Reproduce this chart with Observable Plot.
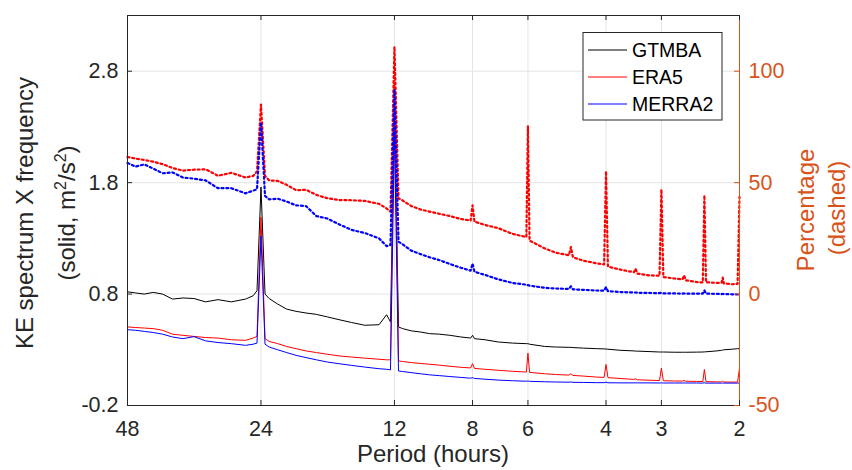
<!DOCTYPE html>
<html><head><meta charset="utf-8">
<script src="https://cdn.jsdelivr.net/npm/d3@7"></script>
<script src="https://cdn.jsdelivr.net/npm/@observablehq/plot@0.6"></script>
<style>
body{margin:0;background:#fff;}
svg{font-family:"Liberation Sans", Arial, Helvetica, sans-serif;}
</style></head><body><div id="chart"></div>
<script>
// Period (hours)
const periods = [48,46,44,42,40,38,36,34,32,30, 28,26,25,24.5,24,23.5,23,22,21,20,
  19,18,17,16,15,14,13,12.5,12.25,12, 11.75,11.5,11,10.5,10,9.5,9,8.5,8.08,8,
  7.92,7.5,7,6.5,6.05,6,5.95,5.5,5.2,4.85, 4.8,4.75,4.5,4.2,4.04,4,3.96,3.7,3.46,3.43,
  3.40,3.2,3.03,3,2.97,2.8,2.69,2.667,2.645,2.5, 2.42,2.4,2.38,2.25,2.195,2.182,2.17,2.08,2.02,2];
// KE spectrum x frequency (m^2/s^2), solid
const gtmba = [0.82,0.81,0.80,0.815,0.80,0.755,0.765,0.76,0.73,0.75, 0.73,0.755,0.785,0.83,1.76,0.80,0.76,0.71,0.665,0.645,
  0.63,0.618,0.595,0.57,0.545,0.52,0.525,0.615,0.55,2.45, 0.505,0.49,0.47,0.46,0.445,0.44,0.43,0.415,0.405,0.43,
  0.40,0.39,0.37,0.36,0.355,0.355,0.35,0.33,0.325,0.322, 0.322,0.32,0.315,0.31,0.308,0.307,0.305,0.295,0.29,0.288,
  0.288,0.284,0.28,0.28,0.28,0.278,0.278,0.278,0.278,0.279, 0.28,0.281,0.282,0.29,0.295,0.297,0.30,0.305,0.31,0.31];
const era5 = [0.505,0.50,0.495,0.49,0.475,0.44,0.43,0.42,0.41,0.405, 0.39,0.385,0.405,0.42,1.49,0.40,0.375,0.355,0.33,0.31,
  0.29,0.275,0.26,0.245,0.235,0.225,0.215,0.21,0.21,2.7, 0.20,0.195,0.185,0.178,0.17,0.162,0.152,0.143,0.137,0.175,
  0.133,0.125,0.116,0.107,0.10,0.27,0.097,0.085,0.078,0.073, 0.085,0.07,0.064,0.055,0.052,0.168,0.05,0.042,0.034,0.04,
  0.031,0.027,0.024,0.135,0.022,0.02,0.019,0.025,0.018,0.016, 0.015,0.123,0.014,0.012,0.012,0.02,0.011,0.01,0.01,0.135];
const merra2 = [0.48,0.475,0.465,0.455,0.44,0.415,0.40,0.418,0.38,0.365, 0.355,0.34,0.35,0.36,1.32,0.35,0.325,0.30,0.275,0.25,
  0.23,0.21,0.19,0.175,0.16,0.145,0.13,0.125,0.12,2.25, 0.11,0.105,0.095,0.085,0.075,0.068,0.06,0.052,0.045,0.05,
  0.043,0.036,0.028,0.022,0.018,0.02,0.017,0.013,0.011,0.009, 0.011,0.008,0.007,0.005,0.005,0.009,0.004,0.003,0.003,0.003,
  0.003,0.003,0.002,0.003,0.002,0.002,0.002,0.002,0.002,0.002, 0.001,0.004,0.001,0.001,0.001,0.001,0.001,0.001,0.001,0.001];
// Percentage (dashed)
const era5Pct = [61.5,60.8,60.2,59.4,58.3,56.6,55.4,55.8,56.0,53.1, 54.4,52.3,53.0,55,85,53,51,50.8,49,46.6,
  46.8,44.5,43,42.2,42.1,41.8,40.5,38.4,37,111, 43,42,39.5,38,37,36,35,33.7,33,39.8,
  32.5,31,29.6,27,25.6,75.3,24,20.5,18.6,17.4, 21.1,16.5,15,13.8,13.3,55.1,12.3,10.9,9.8,11.4,
  9.2,8.4,8.2,47,7.6,7.0,6.6,8.4,6.2,5.4, 5.2,44.3,5.3,5.0,5.1,7.4,4.8,4.4,4.6,43.6];
const merra2Pct = [58.8,57.2,58.2,56.3,54.2,54.6,52.3,51.8,51.0,47.5, 47.5,45.2,46.4,47,77,44,42.5,42.8,41.5,39.8,
  39.5,35,33.9,31.3,28.8,27.4,25.0,21.5,22,91.5, 23.5,22.3,19.5,18,16.5,15.2,13.5,11.8,10.5,13.7,
  10,8.6,6.6,5,4.2,4.0,3.8,2.8,2.5,2.3, 3.5,2.1,1.9,1.6,1.5,3.1,1.3,0.9,0.7,0.7,
  0.6,0.5,0.4,0.6,0.3,0.3,0.2,0.3,0.2,0.2, 0.2,1.7,0.2,0.1,0.0,0.1,0.0,-0.1,-0.2,-0.2];

const xTicks = [48,24,12,8,6,4,3,2];
const yTicks = [-0.2,0.8,1.8,2.8];
const pctTicks = [-50,0,50,100];
const seriesNames = ["GTMBA","ERA5","MERRA2"];
const seriesColors = ["#000000","#ff0000","#0000ff"];

// right axis (percentage) aligned with left axis: -50 <-> -0.2, 100 <-> 2.8
const pctToLeft = p => (p + 40) / 50;
const leftToPct = v => Math.round(v * 50 - 40);

const solidSeries = [gtmba, era5, merra2];
const solidRows = solidSeries.flatMap((arr, k) => periods.map((P, i) => ({P, v: arr[i], s: seriesNames[k]})));
const pctSeries = [[era5Pct, "ERA5"], [merra2Pct, "MERRA2"]];
const pctRows = pctSeries.flatMap(([arr, name]) => periods.map((P, i) => ({P, v: pctToLeft(arr[i]), s: name})));

const W = 852, H = 470, mL = 127, mR = 113, mT = 15, mB = 65;
const innerW = W - mL - mR, innerH = H - mT - mB;
const orange = "#D95319", axisCol = "#262626", gridCol = "#e4e4e4";
const colorOf = name => seriesColors[seriesNames.indexOf(name)];

const svg = Plot.plot({
  width: W, height: H,
  marginLeft: mL, marginRight: mR, marginTop: mT, marginBottom: mB,
  style: {fontFamily: '"Liberation Sans", Arial, sans-serif', fontSize: "21.5px", color: axisCol, background: "white", overflow: "visible"},
  x: {type: "log", domain: [48, 2]},
  y: {domain: [-0.2, 3.3]},
  marks: [
    Plot.ruleX(xTicks, {x: d => d, stroke: gridCol}),
    Plot.ruleY(yTicks, {y: d => d, stroke: gridCol}),
    ...seriesNames.map(name => Plot.line(solidRows.filter(r => r.s === name), {x: "P", y: "v", stroke: colorOf(name), strokeWidth: 1})),
    ...pctSeries.map(([, name]) => Plot.line(pctRows.filter(r => r.s === name), {x: "P", y: "v", stroke: colorOf(name), strokeWidth: 2.2, strokeDasharray: "2,2.8"})),
    Plot.frame({stroke: axisCol}),
    Plot.ruleX([2], {x: d => d, stroke: orange}),
    Plot.tickX(xTicks, {x: d => d, insetTop: innerH - 5, stroke: axisCol}),
    Plot.tickX(xTicks, {x: d => d, insetBottom: innerH - 5, stroke: axisCol}),
    Plot.tickY(yTicks, {y: d => d, insetRight: innerW - 5, stroke: axisCol}),
    Plot.tickY(pctTicks.map(pctToLeft), {y: d => d, insetLeft: innerW - 5, stroke: orange}),
    Plot.axisX({ticks: xTicks, tickSize: 0, tickPadding: 15, tickFormat: d => String(d), label: null}),
    Plot.axisY({ticks: yTicks, tickSize: 0, tickPadding: 9, tickFormat: d => d.toFixed(1), label: null}),
    Plot.axisY({anchor: "right", ticks: pctTicks.map(pctToLeft), tickSize: 0, tickPadding: 9, tickFormat: d => String(leftToPct(d)), color: orange, label: null})
  ]
});
document.getElementById("chart").appendChild(svg);

const s = d3.select(svg);
// axis titles
s.append("text").attr("x", mL + innerW / 2).attr("y", 462).attr("text-anchor", "middle")
  .attr("font-size", 24).attr("fill", axisCol).text("Period (hours)");
s.append("text").attr("transform", "translate(33,213) rotate(-90)").attr("text-anchor", "middle")
  .attr("font-size", 24).attr("fill", axisCol).text("KE spectrum X frequency");
const l2 = s.append("text").attr("transform", "translate(75,213) rotate(-90)").attr("text-anchor", "middle")
  .attr("font-size", 24).attr("fill", axisCol);
l2.append("tspan").text("(solid, m");
l2.append("tspan").attr("font-size", 16).attr("dy", -9).text("2");
l2.append("tspan").attr("dy", 9).text("/s");
l2.append("tspan").attr("font-size", 16).attr("dy", -9).text("2");
l2.append("tspan").attr("dy", 9).text(")");
s.append("text").attr("transform", "translate(814,210) rotate(-90)").attr("text-anchor", "middle")
  .attr("font-size", 24).attr("fill", orange).text("Percentage");
s.append("text").attr("transform", "translate(845,208) rotate(-90)").attr("text-anchor", "middle")
  .attr("font-size", 24).attr("fill", orange).text("(dashed)");

// legend
const lg = s.append("g");
lg.append("rect").attr("x", 583).attr("y", 32.5).attr("width", 139).attr("height", 87.5)
  .attr("fill", "white").attr("stroke", axisCol).attr("stroke-width", 1);
seriesNames.forEach((name, i) => {
  const y = 50 + i * 27;
  lg.append("line").attr("x1", 588).attr("x2", 627).attr("y1", y).attr("y2", y)
    .attr("stroke", seriesColors[i]).attr("stroke-width", 1);
  lg.append("text").attr("x", 632).attr("y", y).attr("dy", "0.35em").attr("font-size", 19.5)
    .attr("text-anchor", "start").attr("fill", "#000").text(name);
});
</script></body></html>
